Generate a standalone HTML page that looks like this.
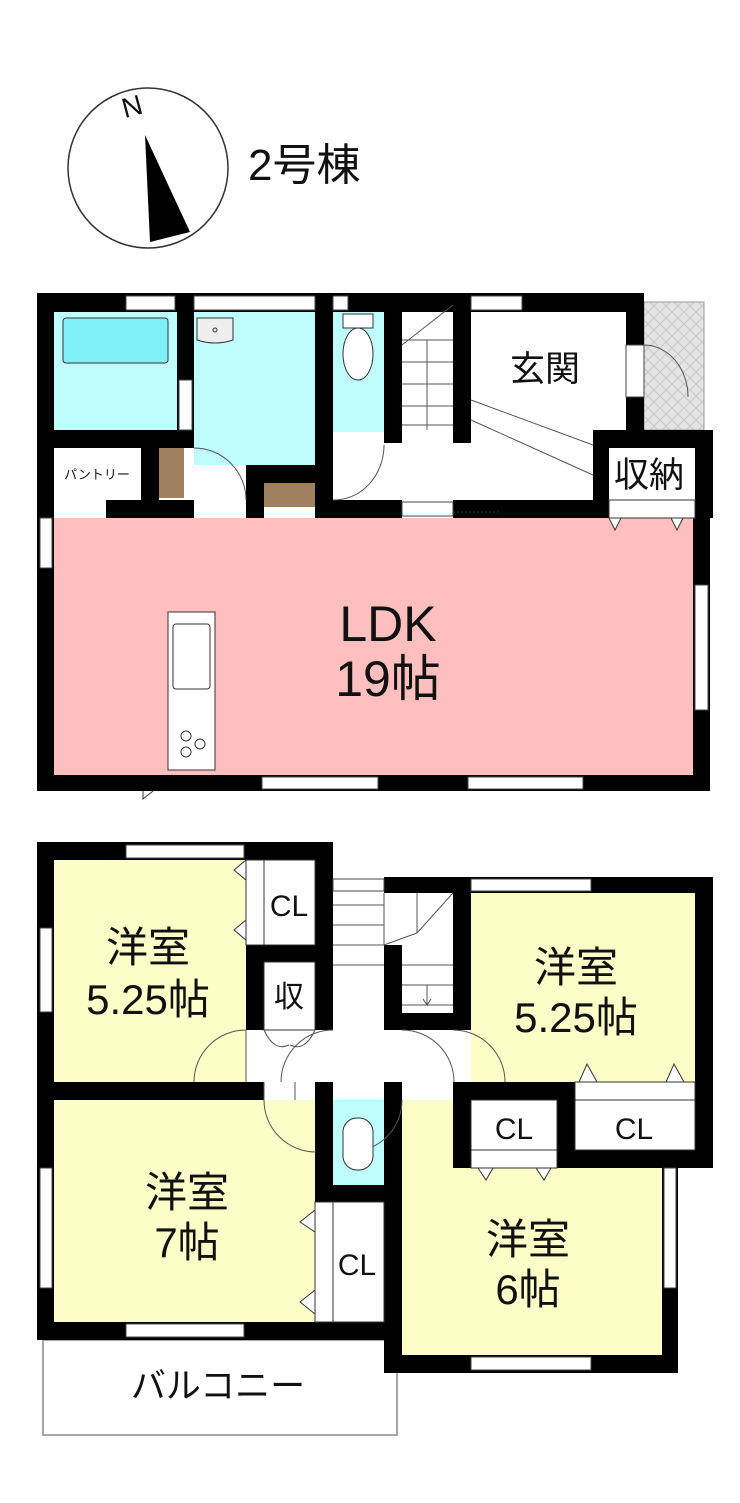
<!DOCTYPE html>
<html><head><meta charset="utf-8"><style>
html,body{margin:0;padding:0;background:#fff}
svg{display:block}
text{font-family:"Liberation Sans","Noto Sans CJK JP",sans-serif;fill:#111}
</style></head><body>
<svg width="740" height="1503" viewBox="0 0 740 1503" xmlns="http://www.w3.org/2000/svg">
<defs>
<pattern id="tile" width="12" height="12" patternUnits="userSpaceOnUse">
<rect width="12" height="12" fill="#e4e4e4"/><path d="M0 0L12 12M12 0L0 12" stroke="#c8c8c8" stroke-width="1"/></pattern>
</defs>
<!-- compass -->
<circle cx="148" cy="168" r="80" fill="#fff" stroke="#333" stroke-width="1.5"/>
<text x="132" y="116" font-size="28" text-anchor="middle" transform="rotate(-15 132 106)">N</text>
<polygon points="145,135 150,242 190,232" fill="#000"/>
<text x="248" y="180" font-size="44">2号棟</text>

<!-- ===== 1F ===== -->
<rect x="644" y="302" width="60" height="128" fill="url(#tile)" stroke="#999"/>
<rect x="54" y="518" width="640" height="257" fill="#ffbfbf"/>
<rect x="54" y="312" width="123" height="118" fill="#bffcfc"/>
<rect x="63" y="318" width="105" height="45" fill="#7ff0f5" stroke="#333" rx="3"/>
<rect x="194" y="312" width="121" height="153" fill="#bffcfc"/>
<rect x="333" y="312" width="51" height="120" fill="#bffcfc"/>
<rect x="159" y="448" width="25" height="50" fill="#a0805e"/>
<rect x="264" y="483" width="51" height="24" fill="#a0805e"/>
<g fill="#000">
<rect x="37" y="293" width="600" height="19"/>
<rect x="37" y="293" width="17" height="497"/>
<rect x="177" y="293" width="17" height="155"/>
<rect x="37" y="430" width="157" height="18"/>
<rect x="141" y="448" width="18" height="70"/>
<rect x="106" y="500" width="88" height="18"/>
<rect x="315" y="293" width="18" height="225"/>
<rect x="246" y="465" width="69" height="18"/>
<rect x="246" y="465" width="18" height="53"/>
<rect x="315" y="500" width="87" height="18"/>
<rect x="384" y="293" width="18" height="150"/>
<rect x="453" y="293" width="18" height="150"/>
<rect x="453" y="500" width="140" height="18"/>
<rect x="626" y="293" width="18" height="150"/>
<rect x="593" y="430" width="120" height="88"/>
<rect x="693" y="430" width="17" height="360"/>
<rect x="37" y="775" width="673" height="16"/>
</g>
<rect x="609" y="448" width="86" height="52" fill="#fff"/>
<rect x="609" y="500" width="86" height="18" fill="#fff" stroke="#333"/>
<g fill="#fff" stroke="#444" stroke-width="1">
<rect x="126" y="296" width="49" height="14"/>
<rect x="194" y="296" width="121" height="14"/>
<rect x="333" y="296" width="15" height="14"/>
<rect x="471" y="296" width="51" height="14"/>
<rect x="179" y="380" width="13" height="50"/>
<rect x="626" y="345" width="18" height="52"/>
<rect x="40" y="518" width="12" height="50"/>
<rect x="695" y="585" width="13" height="125"/>
<rect x="262" y="777" width="116" height="12"/>
<rect x="468" y="777" width="115" height="12"/>
<rect x="402" y="502" width="51" height="14"/>
</g>
<line x1="453" y1="512" x2="500" y2="512" stroke="#333" stroke-dasharray="2,2"/>
<path d="M197 318h36v22q-18 6-36 0z" fill="#eee" stroke="#333"/>
<circle cx="215" cy="330" r="2" fill="none" stroke="#333"/>
<rect x="343" y="314" width="30" height="14" fill="#fff" stroke="#333"/>
<ellipse cx="358" cy="354" rx="15" ry="26" fill="#fff" stroke="#333"/>
<g stroke="#555" fill="none">
<path d="M402 340h51M402 362h51M402 384h51M402 406h51M402 425h51M427 340v90"/>
<path d="M402 345L453 305M471 400L593 445M471 420L593 475"/>
<path d="M194 448a52 52 0 0 1 52 52"/>
<path d="M384 445a50 55 0 0 1 -51 55"/>
<path d="M644 345a44 52 0 0 1 44 52"/>
</g>
<polygon points="609,518 621,518 615,530" fill="#fff" stroke="#333"/>
<polygon points="671,518 683,518 677,530" fill="#fff" stroke="#333"/>
<rect x="168" y="612" width="47" height="158" fill="#fff" stroke="#333"/>
<rect x="173" y="624" width="37" height="65" fill="#fff" stroke="#333" rx="3"/>
<circle cx="186" cy="736" r="5" fill="none" stroke="#333"/><circle cx="200" cy="744" r="5" fill="none" stroke="#333"/><circle cx="186" cy="752" r="5" fill="none" stroke="#333"/>
<path d="M143 791v8l10-8" fill="none" stroke="#333"/>
<text x="545" y="381" font-size="35" text-anchor="middle">玄関</text>
<text x="649" y="487" font-size="35" text-anchor="middle">収納</text>
<text x="97" y="479" font-size="13" text-anchor="middle">パントリー</text>
<text x="388" y="641" font-size="50" text-anchor="middle">LDK</text>
<text x="388" y="696" font-size="50" text-anchor="middle">19帖</text>

<!-- ===== 2F ===== -->
<rect x="43" y="1340" width="354" height="95" fill="#fff" stroke="#888" stroke-width="1.5"/>
<rect x="54" y="860" width="192" height="222" fill="#fdfdc8"/>
<rect x="471" y="893" width="224" height="189" fill="#fdfdc8"/>
<rect x="54" y="1100" width="261" height="222" fill="#fdfdc8"/>
<rect x="402" y="1100" width="260" height="255" fill="#fdfdc8"/>
<rect x="333" y="1100" width="51" height="85" fill="#bffcfc"/>
<g fill="#000">
<rect x="37" y="842" width="296" height="18"/>
<rect x="37" y="842" width="17" height="498"/>
<rect x="315" y="842" width="18" height="188"/>
<rect x="246" y="945" width="87" height="17"/>
<rect x="246" y="945" width="18" height="85"/>
<rect x="384" y="877" width="329" height="16"/>
<rect x="384" y="945" width="18" height="85"/>
<rect x="384" y="1013" width="87" height="17"/>
<rect x="453" y="877" width="18" height="153"/>
<rect x="695" y="877" width="18" height="291"/>
<rect x="37" y="1082" width="227" height="18"/>
<rect x="315" y="1082" width="18" height="120"/>
<rect x="315" y="1185" width="87" height="17"/>
<rect x="384" y="1082" width="18" height="291"/>
<rect x="453" y="1082" width="260" height="86"/>
<rect x="37" y="1322" width="347" height="18"/>
<rect x="662" y="1168" width="16" height="205"/>
<rect x="384" y="1355" width="294" height="18"/>
</g>
<g fill="#fff" stroke="#333">
<rect x="264" y="860" width="51" height="85"/>
<rect x="246" y="860" width="18" height="85"/>
<rect x="264" y="962" width="51" height="68"/>
<rect x="471" y="1100" width="86" height="50"/>
<rect x="471" y="1150" width="86" height="18"/>
<rect x="575" y="1100" width="120" height="50"/>
<rect x="575" y="1082" width="120" height="18"/>
<rect x="333" y="1202" width="51" height="120"/>
<rect x="315" y="1202" width="18" height="120"/>
</g>
<g fill="#fff" stroke="#444">
<rect x="126" y="845" width="118" height="13"/>
<rect x="333" y="879" width="51" height="12"/>
<rect x="471" y="879" width="120" height="12"/>
<rect x="40" y="928" width="12" height="84"/>
<rect x="40" y="1168" width="12" height="120"/>
<rect x="664" y="1168" width="12" height="120"/>
<rect x="126" y="1324" width="118" height="13"/>
<rect x="471" y="1357" width="120" height="13"/>
</g>
<g stroke="#555" fill="none">
<path d="M333 905h51M333 925h51M333 945h51M333 965h51M402 965h51M402 985h51M402 1005h51M384 893v52M417 893v40L384 945M417 933L453 893M427 985v20l-4-6M427 1005l4-6"/>
<path d="M246 1030a52 52 0 0 0 -52 52M333 1030a52 52 0 0 0 -52 52M402 1030a52 52 0 0 1 52 52M453 1030a52 52 0 0 1 52 52"/>
<path d="M264 1030q10 22 25 15M315 1030q-10 22 -25 15"/>
<path d="M264 1100a52 52 0 0 0 52 52M402 1100a52 52 0 0 1 -52 52"/>
<path d="M246 1082v-52M264 1082v18M295 1082v18"/>
</g>
<rect x="343" y="1118" width="30" height="52" rx="14" fill="#fff" stroke="#333"/>
<g fill="#fff" stroke="#333">
<polygon points="246,860 234,870 246,880"/><polygon points="246,920 234,930 246,940"/>
<polygon points="579,1082 587,1064 597,1082"/><polygon points="666,1082 674,1064 684,1082"/>
<polygon points="478,1168 486,1180 493,1168"/><polygon points="536,1168 544,1180 551,1168"/>
<polygon points="315,1210 300,1222 315,1232"/><polygon points="315,1290 300,1302 315,1314"/>
</g>
<g font-size="42" text-anchor="middle">
<text x="148" y="962">洋室</text><text x="148" y="1014">5.25帖</text>
<text x="576" y="982">洋室</text><text x="576" y="1032">5.25帖</text>
<text x="187" y="1207">洋室</text><text x="187" y="1257">7帖</text>
<text x="528" y="1254">洋室</text><text x="528" y="1304">6帖</text>
</g>
<g font-size="30" text-anchor="middle">
<text x="289" y="916">CL</text><text x="289" y="1007">収</text>
<text x="357" y="1275">CL</text><text x="514" y="1139">CL</text><text x="634" y="1139">CL</text>
</g>
<text x="218" y="1398" font-size="35" text-anchor="middle">バルコニー</text>
</svg>
</body></html>
